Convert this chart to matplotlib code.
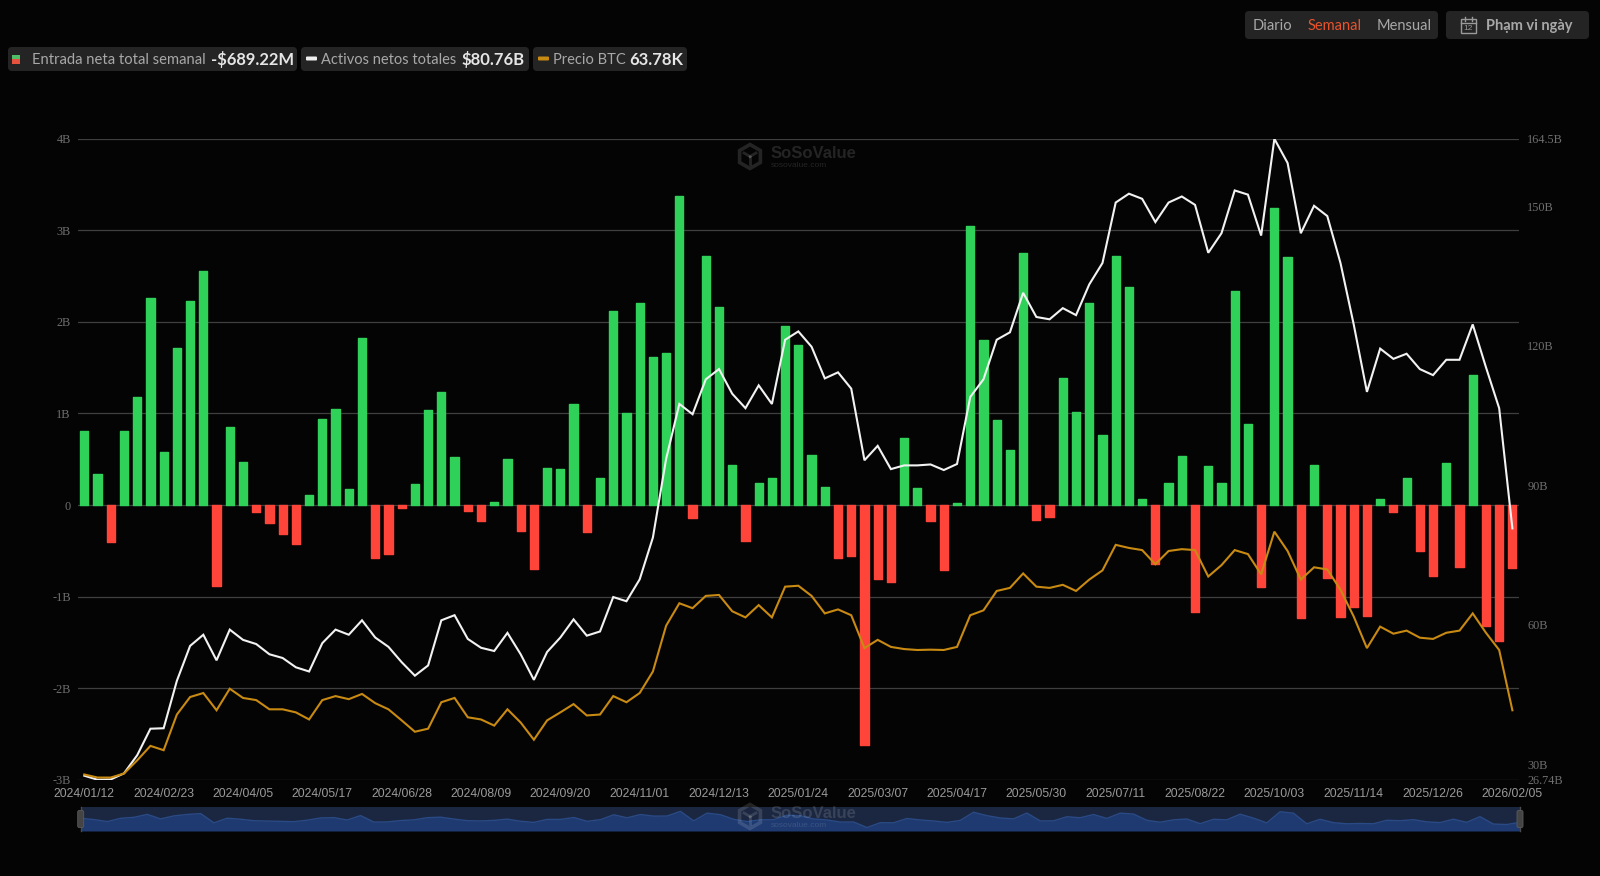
import matplotlib
matplotlib.use("Agg")
import matplotlib.pyplot as plt
from matplotlib.patches import FancyBboxPatch, Rectangle, RegularPolygon

# weekly net flow in $B
net_inflow = [
    0.81, 0.34, -0.40, 0.81, 1.18, 2.26, 0.58, 1.71, 2.23, 2.56,
    -0.88, 0.85, 0.47, -0.08, -0.20, -0.32, -0.43, 0.11, 0.94, 1.05,
    0.17, 1.82, -0.58, -0.54, -0.03, 0.23, 1.04, 1.23, 0.53, -0.07,
    -0.17, 0.03, 0.50, -0.28, -0.70, 0.40, 0.39, 1.10, -0.30, 0.30,
    2.12, 1.00, 2.21, 1.62, 1.66, 3.37, -0.14, 2.72, 2.16, 0.44,
    -0.39, 0.24, 0.30, 1.96, 1.75, 0.55, 0.20, -0.58, -0.56, -2.62,
    -0.81, -0.84, 0.73, 0.19, -0.17, -0.71, 0.02, 3.05, 1.80, 0.93,
    0.60, 2.75, -0.16, -0.13, 1.39, 1.02, 2.21, 0.76, 2.72, 2.38,
    0.07, -0.64, 0.24, 0.54, -1.17, 0.43, 0.24, 2.34, 0.88, -0.90,
    3.24, 2.71, -1.23, 0.44, -0.80, -1.22, -1.11, -1.21, 0.07, -0.08,
    0.29, -0.50, -0.78, 0.46, -0.68, 1.42, -1.32, -1.49, -0.689,
]

# total net assets in $B
net_assets = [
    27.6, 26.74, 26.8, 28.1, 32.0, 37.7, 37.8, 48.0, 55.5, 57.9,
    52.4, 59.0, 56.8, 55.9, 53.7, 52.9, 50.9, 50.0, 56.1, 59.0,
    57.9, 61.0, 57.3, 55.3, 52.0, 49.1, 51.3, 61.0, 62.1, 57.0,
    55.1, 54.4, 58.3, 53.7, 48.2, 54.2, 57.3, 61.2, 57.7, 58.6,
    66.0, 65.1, 69.8, 78.8, 95.7, 107.5, 105.3, 112.8, 115.0, 109.7,
    106.6, 111.5, 107.5, 121.3, 123.1, 119.8, 113.0, 114.3, 110.8, 95.4,
    98.5, 93.5, 94.3, 94.3, 94.5, 93.3, 94.6, 109.0, 112.8, 121.3,
    122.9, 131.4, 126.2, 125.7, 128.1, 126.6, 133.2, 137.8, 150.8, 152.7,
    151.6, 146.6, 150.8, 152.1, 150.3, 140.0, 144.2, 153.4, 152.5, 143.7,
    164.5, 159.3, 144.2, 150.1, 147.9, 137.8, 124.6, 110.1, 119.4, 117.2,
    118.3, 115.0, 113.7, 117.0, 117.0, 124.6, 115.4, 106.6, 80.76,
]

# BTC price in $K
btc_price = [
    42.9, 41.9, 41.9, 43.2, 47.5, 52.2, 50.8, 62.4, 68.1, 69.4,
    63.8, 70.8, 67.8, 67.1, 64.1, 64.1, 63.1, 60.8, 67.1, 68.4,
    67.4, 69.1, 66.1, 64.1, 60.5, 56.8, 57.8, 66.4, 67.8, 61.5,
    60.8, 58.8, 64.1, 59.8, 54.2, 60.5, 63.1, 65.8, 62.1, 62.4,
    68.4, 66.4, 69.4, 76.4, 91.3, 98.6, 97.0, 101.0, 101.3, 96.0,
    94.0, 98.0, 94.0, 104.0, 104.3, 101.0, 95.3, 96.6, 94.7, 84.0,
    86.7, 84.4, 83.7, 83.4, 83.5, 83.4, 84.4, 94.7, 96.3, 102.6,
    103.6, 108.3, 104.0, 103.6, 104.6, 102.6, 106.3, 109.3, 117.6, 116.6,
    115.9, 111.3, 115.6, 116.2, 115.9, 107.3, 111.0, 115.9, 114.6, 108.0,
    121.9, 115.6, 106.3, 110.3, 109.6, 103.0, 94.3, 84.0, 91.0, 88.7,
    89.7, 87.4, 87.0, 89.0, 89.7, 95.3, 89.0, 83.4, 63.78,
]

date_labels = [
    "2024/01/12", "2024/02/23", "2024/04/05", "2024/05/17", "2024/06/28",
    "2024/08/09", "2024/09/20", "2024/11/01", "2024/12/13", "2025/01/24",
    "2025/03/07", "2025/04/17", "2025/05/30", "2025/07/11", "2025/08/22",
    "2025/10/03", "2025/11/14", "2025/12/26", "2026/02/05",
]
left_ticks = [-3, -2, -1, 0, 1, 2, 3, 4]
left_labels = ["-3B", "-2B", "-1B", "0", "1B", "2B", "3B", "4B"]
right_ticks = [26.74, 30, 60, 90, 120, 150, 164.5]
right_labels = ["26.74B", "30B", "60B", "90B", "120B", "150B", "164.5B"]

W, H = 1600, 876
BG = "#040404"
GREEN = "#30d158"
RED = "#ff453a"
ORANGE = "#c98a12"
CHIP = "#242424"
SERIF = ["Liberation Serif"]
SANS = ["Liberation Sans"]
UI = ["Lato", "Noto Sans"]


def px_axes(x0, y0, x1, y1):
    """axes placed by pixel box, y counted from the top"""
    return fig.add_axes([x0 / W, 1 - y1 / H, (x1 - x0) / W, (y1 - y0) / H])


def chip(x0, y0, x1, y1):
    overlay.add_patch(FancyBboxPatch((x0 + 3, y0 + 3), x1 - x0 - 6, y1 - y0 - 6,
                                     boxstyle="round,pad=3,rounding_size=4",
                                     fc=CHIP, ec="none"))


def watermark(x, y):
    """hex cube logo with the site name, faint white so it shows on black and on blue"""
    mark = dict(color="white", alpha=0.13, zorder=9)
    overlay.add_patch(RegularPolygon((x, y), 6, radius=12, fc="none", ec="white",
                                     alpha=0.13, lw=2.6, zorder=9))
    overlay.plot([x, x], [y, y + 7], lw=2, **mark)
    overlay.plot([x - 6, x], [y - 3.5, y], lw=2, **mark)
    overlay.plot([x + 6, x], [y - 3.5, y], lw=2, **mark)
    overlay.text(x + 21, y - 3.5, "SoSoValue", fontsize=12, fontweight="bold",
                 family=SANS, va="center", ha="left", **mark)
    overlay.text(x + 21, y + 9, "sosovalue.com", fontsize=6, family=SANS,
                 va="center", ha="left", **mark)


fig = plt.figure(figsize=(W / 100, H / 100), dpi=100, facecolor=BG)

ax = px_axes(77.7, 138.8, 1519, 779.7)
ax.set_facecolor(BG)
xs = list(range(len(net_inflow)))
colors = [GREEN if v >= 0 else RED for v in net_inflow]
bars = ax.bar(xs, net_inflow, width=0.62, color=colors, edgecolor=colors, linewidth=1, zorder=3)
for b in bars:
    b.set_joinstyle("round")
ax.set_xlim(-0.5, len(xs) - 0.5)
ax.set_ylim(-3, 4)
ax.set_yticks(left_ticks, left_labels, family=SERIF, fontsize=8.8, color="#6e6e6e")
ax.set_xticks(xs[::6], date_labels, family=SANS, fontsize=8.7, color="#9a9a9a")
ax.tick_params(axis="both", length=0)
ax.tick_params(axis="x", pad=6)
ax.tick_params(axis="y", pad=5)
ax.grid(axis="y", color="#3f3f3f", lw=0.9, zorder=0)
ax.set_axisbelow(True)
for s in ax.spines.values():
    s.set_visible(False)

ax_assets = ax.twinx()
ax_assets.plot(xs, net_assets, color="#f2f2f2", lw=1.5, zorder=5, solid_joinstyle="miter")
ax_assets.set_ylim(26.74, 164.5)
ax_assets.set_yticks(right_ticks, right_labels, family=SERIF, fontsize=8.8, color="#6e6e6e")
ax_assets.tick_params(axis="y", length=0, pad=6)

ax_price = ax.twinx()
ax_price.plot(xs, btc_price, color=ORANGE, lw=1.5, zorder=5, solid_joinstyle="miter")
ax_price.set_ylim(41.2, 249.7)
ax_price.set_yticks([])
for a in (ax_assets, ax_price):
    a.patch.set_visible(False)
    for s in a.spines.values():
        s.set_visible(False)

# range slider under the chart
ax_mini = px_axes(80.7, 807, 1520, 831)
ax_mini.set_facecolor("#1b2740")
ax_mini.fill_between(xs, net_inflow, -3.89, color="#1e3a70", lw=0)
ax_mini.plot(xs, net_inflow, color="#2a4a86", lw=1)
ax_mini.set_xlim(0, len(xs) - 1)
ax_mini.set_ylim(-3.89, 5.0)
ax_mini.set_xticks([])
ax_mini.set_yticks([])
for s in ax_mini.spines.values():
    s.set_visible(False)

# texts and boxes placed directly in pixels
overlay = fig.add_axes([0, 0, 1, 1], facecolor="none")
overlay.set_xlim(0, W)
overlay.set_ylim(H, 0)
overlay.axis("off")

chip(8, 47, 297, 71)
chip(301, 47, 529, 71)
chip(533, 47, 687, 71)
chip(1245, 11, 1438, 39)
chip(1446, 11, 1589, 39)

overlay.add_patch(Rectangle((12, 54.7), 8.3, 4.6, fc="#4fbf67", ec="none"))
overlay.add_patch(Rectangle((12, 59.3), 8.3, 4.7, fc="#e5533f", ec="none"))
overlay.add_patch(FancyBboxPatch((307, 57.5), 9, 2, boxstyle="round,pad=1", fc="#eeeeee", ec="none"))
overlay.add_patch(FancyBboxPatch((539, 57.5), 9, 2, boxstyle="round,pad=1", fc=ORANGE, ec="none"))

text_style = dict(family=UI, va="center", ha="left")
overlay.text(32, 59.8, "Entrada neta total semanal", color="#a8a8a8", fontsize=10.6, **text_style)
overlay.text(210.5, 59.8, "-$689.22M", color="#e6e6e6", fontsize=11.9, fontweight="bold", **text_style)
overlay.text(321, 59.8, "Activos netos totales", color="#a8a8a8", fontsize=10.55, **text_style)
overlay.text(461.5, 59.8, "$80.76B", color="#e6e6e6", fontsize=12, fontweight="bold", **text_style)
overlay.text(553, 59.8, "Precio BTC", color="#a8a8a8", fontsize=10.5, **text_style)
overlay.text(629, 59.8, "63.78K", color="#e6e6e6", fontsize=12, fontweight="bold", **text_style)

overlay.text(1253, 25.7, "Diario", color="#a8a8a8", fontsize=10.6, **text_style)
overlay.text(1308, 25.7, "Semanal", color="#e8532b", fontsize=10.55, **text_style)
overlay.text(1377, 25.7, "Mensual", color="#a8a8a8", fontsize=10.5, **text_style)
overlay.text(1486, 25.7, "Phạm vi ngày", color="#a8a8a8", fontsize=10.5, fontweight="bold", **text_style)

# calendar icon
overlay.add_patch(Rectangle((1460.5, 18.5), 15, 14.5, fc="none", ec="#9a9a9a", lw=1))
overlay.plot([1460.5, 1475.5], [22.5, 22.5], color="#9a9a9a", lw=1)
overlay.plot([1464.5, 1464.5], [16.5, 20.5], color="#9a9a9a", lw=1)
overlay.plot([1471.5, 1471.5], [16.5, 20.5], color="#9a9a9a", lw=1)
overlay.text(1468, 28, "12", color="#9a9a9a", fontsize=6, family=SANS, ha="center", va="center")

watermark(750, 156.5)
watermark(750, 816.5)

# slider handles
for hx in (80.7, 1520):
    overlay.plot([hx, hx], [807, 831], color="#4a4a4a", lw=1, zorder=7)
    overlay.add_patch(FancyBboxPatch((hx - 1.5, 812), 3, 14, boxstyle="round,pad=1.5",
                                     fc="#444444", ec="#5a5a5a", lw=0.6, zorder=8))

fig.savefig("out.png", dpi=100, facecolor=BG)
